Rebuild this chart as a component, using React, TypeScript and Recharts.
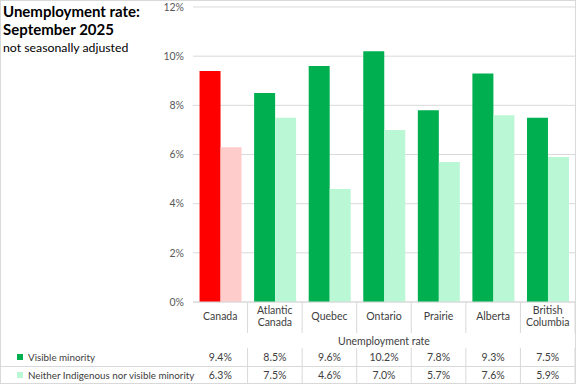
import React from "react";
import { BarChart, Bar, XAxis, YAxis, CartesianGrid, Cell } from "recharts";

const categories = ["Canada", "Atlantic\nCanada", "Quebec", "Ontario", "Prairie", "Alberta", "British\nColumbia"];
const visibleMinority = [9.4, 8.5, 9.6, 10.2, 7.8, 9.3, 7.5];
const neitherGroup = [6.3, 7.5, 4.6, 7.0, 5.7, 7.6, 5.9];
const yTicks = [0, 2, 4, 6, 8, 10, 12];
const seriesNames = ["Visible minority", "Neither Indigenous nor visible minority"];

const data = categories.map((name, i) => ({
  name,
  vm: visibleMinority[i],
  neither: neitherGroup[i],
}));

const W = 577;
const H = 385;
const PLOT_LEFT = 193;
const PLOT_RIGHT = 575;
const PLOT_TOP = 7;
const PLOT_BOTTOM = 302;
const BAND = (PLOT_RIGHT - PLOT_LEFT) / categories.length;
const FONT = "Lato, 'Open Sans', sans-serif";
const LINE = "#D9D9D9";

const fmt = (v: number) => `${v.toFixed(1)}%`;

function CategoryTick(props: any) {
  const { x, payload, index } = props;
  const lines = String(payload.value).split("\n");
  const right = x + BAND / 2;
  const labelY = lines.length === 1 ? 320 : 314;
  return (
    <g>
      <line x1={right} x2={right} y1={PLOT_BOTTOM} y2={333} stroke={LINE} />
      <line x1={right} x2={right} y1={348} y2={383} stroke={LINE} />
      <text x={x} y={labelY} textAnchor="middle" fontSize={10.5} fill="#404040" fontFamily={FONT}>
        {lines.map((l, i) => (
          <tspan key={i} x={x} dy={i === 0 ? 0 : 12}>
            {l}
          </tspan>
        ))}
      </text>
      <text x={x} y={361} textAnchor="middle" fontSize={10.5} fill="#404040" fontFamily={FONT}>
        {fmt(visibleMinority[index])}
      </text>
      <text x={x} y={379} textAnchor="middle" fontSize={10.5} fill="#404040" fontFamily={FONT}>
        {fmt(neitherGroup[index])}
      </text>
    </g>
  );
}

export default function App() {
  const isCanada = (i: number) => i === 0;
  return (
    <div style={{ position: "fixed", left: 0, top: 0, width: W, height: H, background: "#fff" }}>
      <BarChart
        width={W}
        height={H}
        data={data}
        margin={{ top: PLOT_TOP, right: W - PLOT_RIGHT, left: PLOT_LEFT - 40, bottom: 0 }}
        barCategoryGap="12%"
        barGap={0}
      >
        <CartesianGrid vertical={false} stroke={LINE} />
        <YAxis
          width={40}
          domain={[0, 12]}
          ticks={yTicks}
          tickFormatter={(v) => `${v}%`}
          axisLine={false}
          tickLine={false}
          tickMargin={3}
          tick={{ fontSize: 10.5, fill: "#595959", fontFamily: FONT }}
        />
        <XAxis
          dataKey="name"
          axisLine={{ stroke: LINE }}
          tickLine={false}
          interval={0}
          height={H - PLOT_BOTTOM}
          tick={<CategoryTick />}
        />
        <Bar dataKey="vm" isAnimationActive={false}>
          {data.map((_, i) => (
            <Cell key={i} fill={isCanada(i) ? "#FF0000" : "#00B050"} />
          ))}
        </Bar>
        <Bar dataKey="neither" isAnimationActive={false}>
          {data.map((_, i) => (
            <Cell key={i} fill={isCanada(i) ? "#FFCCCC" : "#BAF7D5"} />
          ))}
        </Bar>
      </BarChart>
      <svg
        width={W}
        height={H}
        style={{ position: "absolute", left: 0, top: 0, pointerEvents: "none" }}
      >
        <rect x={0.5} y={0.5} width={575} height={383} fill="none" stroke={LINE} />
        <line x1={0} x2={576} y1={366.5} y2={366.5} stroke={LINE} />
        <text x={(PLOT_LEFT + PLOT_RIGHT) / 2} y={345} textAnchor="middle" fontSize={10.5} fill="#404040" fontFamily={FONT}>
          Unemployment rate
        </text>
        <rect x={17} y={354} width={6} height={6} fill="#00B050" />
        <text x={28} y={361} fontSize={9.8} fill="#404040" fontFamily={FONT}>
          {seriesNames[0]}
        </text>
        <rect x={17} y={372} width={6} height={6} fill="#BAF7D5" />
        <text x={28} y={379} fontSize={9.8} fill="#404040" fontFamily={FONT}>
          {seriesNames[1]}
        </text>
        <text x={3} y={17} fontSize={15} fontWeight="bold" fill="#000" fontFamily={FONT}>
          Unemployment rate:
        </text>
        <text x={3} y={35} fontSize={15} fontWeight="bold" fill="#000" fontFamily={FONT}>
          September 2025
        </text>
        <text x={3} y={52} fontSize={12.3} fill="#000" fontFamily={FONT}>
          not seasonally adjusted
        </text>
      </svg>
    </div>
  );
}
